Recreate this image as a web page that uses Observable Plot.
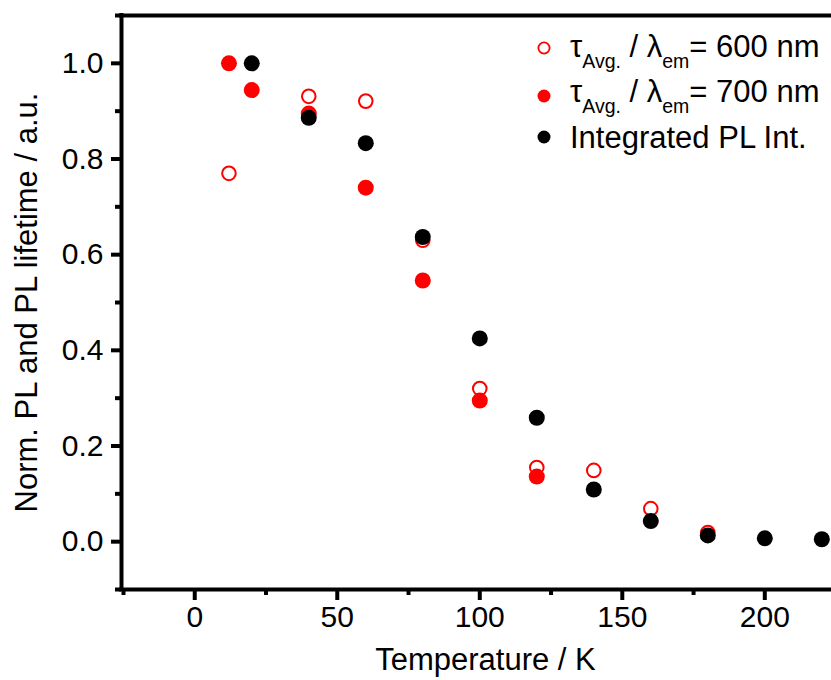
<!DOCTYPE html>
<html>
<head>
<meta charset="utf-8">
<script src="https://cdn.jsdelivr.net/npm/d3@7"></script>
<script src="https://cdn.jsdelivr.net/npm/@observablehq/plot@0.6"></script>
<style>
  body { margin: 0; background: #fff; }
  #wrap { position: relative; width: 831px; height: 680px; font-family: "Liberation Sans", Arial, sans-serif; color: #000; }
  .row { position: absolute; left: 570px; font-size: 31px; line-height: 31px; white-space: nowrap; }
  .row sub { font-size: 19.5px; vertical-align: -11px; line-height: 0; }
  .mk { position: absolute; left: 536px; width: 16px; height: 16px; overflow: visible; }
</style>
</head>
<body>
<div id="wrap"></div>
<script>
// ---- data ----
const temps600 = [12, 40, 60, 80, 100, 120, 140, 160, 180];
const tau600   = [0.770, 0.931, 0.921, 0.630, 0.320, 0.155, 0.149, 0.069, 0.019];

const temps700 = [12, 20, 40, 60, 80, 100, 120];
const tau700   = [1.000, 0.944, 0.895, 0.740, 0.546, 0.295, 0.136];

const tempsInt = [20, 40, 60, 80, 100, 120, 140, 160, 180, 200, 220];
const intPL    = [1.000, 0.886, 0.833, 0.637, 0.425, 0.259, 0.109, 0.043, 0.013, 0.007, 0.005];

const xMajor = [0, 50, 100, 150, 200];
const xMinor = [-25, 25, 75, 125, 175];
const yMajor = [0.0, 0.2, 0.4, 0.6, 0.8, 1.0];
const yMinor = [-0.1, 0.1, 0.3, 0.5, 0.7, 0.9, 1.1];

const xTitle = "Temperature / K";
const yTitle = "Norm. PL and PL lifetime / a.u.";
const legendItems = [
  {html: "τ<sub>Avg.</sub> / λ<sub>em</sub>= 600 nm", kind: "open"},
  {html: "τ<sub>Avg.</sub> / λ<sub>em</sub>= 700 nm", kind: "red"},
  {html: "Integrated PL Int.", kind: "black"}
];

// ---- build tables ----
const d600 = temps600.map((t, i) => ({t, v: tau600[i]}));
const d700 = temps700.map((t, i) => ({t, v: tau700[i]}));
const dInt = tempsInt.map((t, i) => ({t, v: intPL[i]}));

const xDom = [-25.7, 223.4];
const yDom = [-0.1, 1.1];
const RED = "#ff0000";

const chart = Plot.plot({
  width: 831,
  height: 680,
  marginLeft: 121,
  marginRight: 0,
  marginTop: 15,
  marginBottom: 91,
  x: {domain: xDom},
  y: {domain: yDom},
  style: {fontFamily: "'Liberation Sans', Arial, sans-serif", fontSize: "30px", color: "#000", background: "#fff", overflow: "visible"},
  marks: [
    Plot.axisX(xMajor, {tickSize: 11, tickPadding: 5, strokeWidth: 4, tickFormat: d3.format("d"), label: null}),
    Plot.axisX(xMinor, {tickSize: 6, strokeWidth: 4, tickFormat: () => "", label: null}),
    Plot.axisY(yMajor, {tickSize: 10, tickPadding: 8, strokeWidth: 4, tickFormat: d3.format(".1f"), label: null}),
    Plot.axisY(yMinor, {tickSize: 6, strokeWidth: 4, tickFormat: () => "", label: null}),
    Plot.ruleX([xDom[0]], {strokeWidth: 4, strokeLinecap: "square"}),
    Plot.ruleY(yDom, {strokeWidth: 4, strokeLinecap: "square"}),
    Plot.text([xTitle], {frameAnchor: "bottom", dx: 9, dy: 71, lineAnchor: "middle", textAnchor: "middle", fontSize: 31}),
    Plot.text([yTitle], {frameAnchor: "left", dx: -94, rotate: -90, lineAnchor: "middle", textAnchor: "middle", fontSize: 31}),
    Plot.dot(d600, {x: "t", y: "v", r: 6.8, stroke: RED, strokeWidth: 2, fill: "none"}),
    Plot.dot(d700, {x: "t", y: "v", r: 8, fill: RED, stroke: "none"}),
    Plot.dot(dInt, {x: "t", y: "v", r: 8, fill: "#000", stroke: "none"})
  ]
});

const wrap = document.getElementById("wrap");
wrap.appendChild(chart);

// ---- legend (inside the plot area, top right) ----
const rowTops = [30.8, 75.5, 122.1];
const markCenters = [48, 96, 137];
legendItems.forEach((it, i) => {
  const row = document.createElement("div");
  row.className = "row";
  row.style.top = rowTops[i] + "px";
  row.innerHTML = it.html;
  wrap.appendChild(row);
  const svg = document.createElementNS("http://www.w3.org/2000/svg", "svg");
  svg.setAttribute("class", "mk");
  svg.style.top = (markCenters[i] - 8) + "px";
  svg.setAttribute("viewBox", "0 0 16 16");
  const c = document.createElementNS("http://www.w3.org/2000/svg", "circle");
  c.setAttribute("cx", 8); c.setAttribute("cy", 8);
  if (it.kind === "open") {
    c.setAttribute("r", 5.6); c.setAttribute("fill", "none"); c.setAttribute("stroke", RED); c.setAttribute("stroke-width", 1.8);
  } else {
    c.setAttribute("r", 6.5); c.setAttribute("fill", it.kind === "red" ? RED : "#000");
  }
  svg.appendChild(c);
  wrap.appendChild(svg);
});
</script>
</body>
</html>
